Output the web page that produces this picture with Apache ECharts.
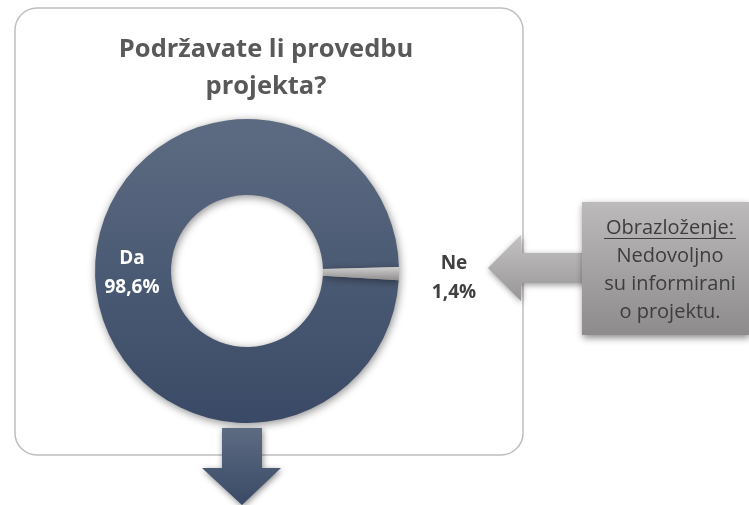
<!DOCTYPE html>
<html>
<head>
<meta charset="utf-8">
<script src="https://cdn.jsdelivr.net/npm/echarts@6/dist/echarts.min.js"></script>
<style>
    html, body { margin: 0; padding: 0; background: #fff; }
    #chart { width: 749px; height: 505px; }
</style>
</head>
<body>
<div id="chart"></div>
<script>
    // podaci s ankete
    const categories = ['Da', 'Ne'];
    const shares = [98.6, 1.4];
    const titleText = 'Podržavate li provedbu\nprojekta?';
    const noteLines = ['Obrazloženje:', 'Nedovoljno', 'su informirani', 'o projektu.'];

    const font = '"Open Sans", "Noto Sans", sans-serif';
    const slate = new echarts.graphic.LinearGradient(0, 0, 0, 1, [
        { offset: 0, color: '#5d6b82' },
        { offset: 1, color: '#3a4a66' }
    ]);
    const grey = new echarts.graphic.LinearGradient(0, 0, 0, 1, [
        { offset: 0, color: '#d0cfcf' },
        { offset: 1, color: '#8f8d8d' }
    ]);

    const myChart = echarts.init(document.getElementById('chart'));

    const option = {
        backgroundColor: '#fff',
        animation: false,
        graphic: [
            {
                type: 'rect', z: 0,
                shape: { x: 15, y: 8, width: 508, height: 447, r: 22 },
                style: { fill: '#fff', stroke: '#bfbfbf', lineWidth: 1.5 }
            },
            {
                type: 'text', z: 5,
                x: 266, y: 31,
                style: {
                    text: titleText, fill: '#595959', font: 'bold 25.5px ' + font,
                    align: 'center', verticalAlign: 'top', lineHeight: 37
                }
            },
            {
                // strelica prema dolje
                type: 'polygon', z: 5,
                shape: { points: [[222, 428], [262, 428], [262, 468], [281, 468], [242, 505], [202, 468], [222, 468]] },
                style: {
                    fill: new echarts.graphic.LinearGradient(0, 0, 0, 1, [
                        { offset: 0, color: '#5d6b82' },
                        { offset: 1, color: '#3a4a66' }
                    ]),
                    shadowBlur: 6, shadowColor: 'rgba(0,0,0,0.45)', shadowOffsetX: 1, shadowOffsetY: 2
                }
            },
            {
                // strelica prema grafu
                type: 'polygon', z: 5,
                shape: { points: [[488, 268], [521, 235], [521, 253], [590, 253], [590, 283], [521, 283], [521, 301]] },
                style: {
                    fill: new echarts.graphic.LinearGradient(0, 0, 0, 1, [
                        { offset: 0, color: '#c4c2c2' },
                        { offset: 1, color: '#979595' }
                    ]),
                    shadowBlur: 6, shadowColor: 'rgba(0,0,0,0.4)', shadowOffsetX: 1, shadowOffsetY: 2
                }
            },
            {
                type: 'rect', z: 6,
                shape: { x: 582, y: 202, width: 167, height: 133 },
                style: {
                    fill: new echarts.graphic.LinearGradient(0, 0, 0, 1, [
                        { offset: 0, color: '#bcbaba' },
                        { offset: 1, color: '#8d8b8b' }
                    ]),
                    shadowBlur: 7, shadowColor: 'rgba(0,0,0,0.45)', shadowOffsetX: 1, shadowOffsetY: 3
                }
            },
            {
                type: 'text', z: 7,
                x: 670, y: 214,
                style: {
                    text: noteLines.join('\n'), fill: '#3d3d3d', font: '20px ' + font,
                    align: 'center', verticalAlign: 'top', lineHeight: 28
                }
            },
            {
                // podcrtano "Obrazloženje:"
                type: 'line', z: 7,
                shape: { x1: 604, y1: 238.5, x2: 736, y2: 238.5 },
                style: { stroke: '#3d3d3d', lineWidth: 1 }
            }
        ],
        series: [
            {
                type: 'pie',
                z: 3,
                center: [247, 271],
                radius: [76, 152],
                startAngle: -3.5,
                clockwise: true,
                silent: true,
                labelLine: { show: false },
                itemStyle: {
                    shadowBlur: 8, shadowColor: 'rgba(0,0,0,0.45)', shadowOffsetX: 1, shadowOffsetY: 2
                },
                label: {
                    show: true,
                    position: 'inside',
                    fontFamily: font,
                    fontWeight: 'bold',
                    fontSize: 19,
                    lineHeight: 29,
                    formatter: p => p.name + '\n' + String(p.value).replace('.', ',') + '%'
                },
                data: categories.map((name, i) => ({
                    name: name,
                    value: shares[i],
                    itemStyle: { color: i === 0 ? slate : grey },
                    label: i === 0
                        ? { color: '#ffffff', offset: [2, 4] }
                        : { color: '#404040', offset: [90, 5] }
                }))
            }
        ]
    };

    myChart.setOption(option);
</script>
</body>
</html>
